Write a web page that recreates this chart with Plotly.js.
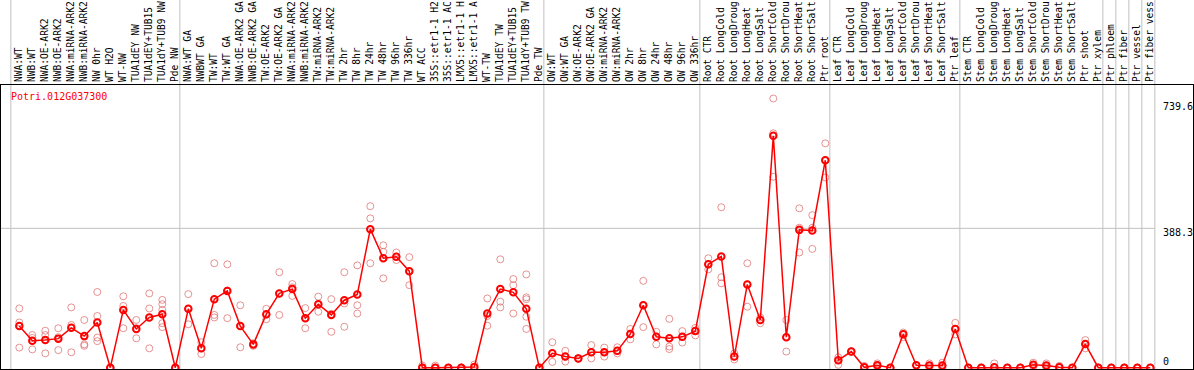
<!DOCTYPE html>
<html><head><meta charset="utf-8">
<script src="https://cdn.plot.ly/plotly-3.0.1.min.js"></script>
<style>html,body{margin:0;padding:0;background:#fff;overflow:hidden}</style>
</head><body><div id="chart" style="width:1194px;height:370px"></div>
<script>
const geneId = "Potri.012G037300";

const samples = [
  "NWA:WT","NWB:WT","NWA:OE-ARK2","NWB:OE-ARK2","NWA:miRNA-ARK2","NWB:miRNA-ARK2","NW 0hr","WT H2O","WT-NW","TUA1dEY NW","TUA1dEY+TUB15","TUA1dY+TUB9 NW","Pde NW",
  "NWA:WT GA","NWBWT GA","TW:WT","TW:WT GA","NWA:OE-ARK2 GA","NWB:OE-ARK2 GA","TW:OE-ARK2","TW:OE-ARK2 GA","NWA:miRNA-ARK2","NWB:miRNA-ARK2","TW:miRNA-ARK2","TW:miRNA-ARK2","TW 2hr","TW 8hr","TW 24hr","TW 48hr","TW 96hr","TW 336hr","WT ACC","35S::etr1-1 H2","35S::etr1-1 AC","LMX5::etr1-1 H","LMX5::etr1-1 A","WT-TW","TUA1dEY TW","TUA1dEY+TUB15","TUA1dY+TUB9 TW","Pde TW",
  "OW:WT","OW:WT GA","OW:OE-ARK2","OW:OE-ARK2 GA","OW:miRNA-ARK2","OW:miRNA-ARK2","OW 2hr","OW 8hr","OW 24hr","OW 48hr","OW 96hr","OW 336hr",
  "Root CTR","Root LongCold","Root LongDroug","Root LongHeat","Root LongSalt","Root ShortCold","Root ShortDrou","Root ShortHeat","Root ShortSalt","Ptr root",
  "Leaf CTR","Leaf LongCold","Leaf LongDroug","Leaf LongHeat","Leaf LongSalt","Leaf ShortCold","Leaf ShortDrou","Leaf ShortHeat","Leaf ShortSalt","Ptr leaf",
  "Stem CTR","Stem LongCold","Stem LongDroug","Stem LongHeat","Stem LongSalt","Stem ShortCold","Stem ShortDrou","Stem ShortHeat","Stem ShortSalt","Ptr shoot","Ptr xylem",
  "Ptr phloem","Ptr fiber","Ptr vessel","Ptr fiber vess"
];

const meanValues = [
  116,75,77,81,111,88,126,0,161,108,140,149,0,
  164,54,191,214,116,65,149,207,219,138,177,147,188,204,386,305,309,269,0,0,0,0,2,151,219,210,164,0,
  40,31,26,43,43,47,94,174,86,82,86,102,
  288,310,31,232,133,646,85,384,382,578,
  21,45,1,7,0,93,7,6,6,108,
  0,0,1,0,0,8,6,1,0,66,0,
  0,0,0,0
];

const replicateValues = [
  [165,126,56],[91,83,51],[103,91,40],[110,85,49],[168,119,43],[133,65,61],[211,144,84,74],[0,0,0],[199,172,110],[133,110,82],[207,165,54],[189,177,161,124,113],[0,0,0],
  [205,164,121],[71,54,38],[291,147,140],[288,215,138],[174,116,57],[68,65,61],[164,148,135],[266,207,147],[233,224,200],[166,138,110],[198,177,156],[191,150,100],[266,179,114],[285,174,151],[450,416,291],[341,323,249],[321,309,300],[308,269,230],[6,0,0],[6,0,0],[0,0,0],[0,0,0],[9,0,0],[193,144,117],[302,184,168],[247,230,151],[260,196,191,142,108],[0,0,0],
  [71,40,16],[47,31,17],[26,26,26],[63,43,26],[56,43,31],[57,47,40],[108,94,79],[242,174,113],[100,86,65],[136,59,52],[102,86,70],[111,102,90],
  [305,288,274],[447,252,235],[40,31,23],[291,232,170],[140,133,124],[750,653,532],[133,85,45],[444,390,321],[425,390,331],[625,578,530],
  [29,21,8],[45,45,45],[5,1,0],[12,7,3],[0,0,0],[98,93,85],[7,7,7],[12,6,1],[14,6,0],[125,108,93],
  [0,0,0],[0,0,0],[12,1,0],[0,0,0],[0,0,0],[14,8,3],[12,6,1],[5,1,0],[0,0,0],[77,66,54],[0,0,0],
  [0,0,0],[0,0,0],[0,0,0],[0,0,0]
];

const groupStarts = [0,13,41,53,63,73,84,85,86,87,88];
const yTickValues = [0, 388.3, 739.6];
const yTickLabels = ["0", "388.3", "739.6"];

const idx = samples.map((s, i) => i);
const repX = [], repY = [];
replicateValues.forEach((arr, i) => arr.forEach(v => { repX.push(i); repY.push(v); }));

const traces = [
  {
    x: repX, y: repY, type: 'scatter', mode: 'markers', hoverinfo: 'skip',
    marker: {symbol: 'circle-open', size: 7, color: 'rgba(222,110,110,0.75)', line: {width: 1}}
  },
  {
    x: idx, y: meanValues, type: 'scatter', mode: 'lines+markers',
    line: {color: '#ff0000', width: 1.5},
    marker: {symbol: 'circle-open', size: 6.5, color: '#ff0000', line: {width: 2}}
  }
];

const xMin = -1.408, xMax = xMin + 1192 / 13;
const shapes = [];
groupStarts.forEach(g => shapes.push({
  type: 'line', xref: 'x', yref: 'paper', x0: g - 0.65, x1: g - 0.65, y0: 0, y1: 1.31,
  line: {color: '#c0c0c0', width: 1}, layer: 'below'
}));
shapes.push({
  type: 'line', xref: 'x', yref: 'y', x0: xMin, x1: 87.35, y0: yTickValues[1], y1: yTickValues[1],
  line: {color: '#c0c0c0', width: 1}, layer: 'below'
});

const annotations = [{
  text: geneId, xref: 'paper', yref: 'paper', x: 0.0065, y: 0.958, xanchor: 'left', yanchor: 'middle',
  showarrow: false, font: {family: 'DejaVu Sans Mono', size: 10, color: '#ff0000'}
}];
yTickValues.forEach((v, i) => annotations.push({
  text: yTickLabels[i], xref: 'x', yref: 'y', x: 87.85, y: v, xanchor: 'left', yanchor: 'middle',
  yshift: v === 0 ? 6 : -4, showarrow: false,
  font: {family: 'DejaVu Sans Mono', size: 10, color: '#000'}
}));

const layout = {
  width: 1194, height: 370,
  margin: {l: 1, r: 1, t: 85, b: 1, pad: 0},
  paper_bgcolor: '#fff', plot_bgcolor: '#fff',
  showlegend: false,
  xaxis: {
    range: [xMin, xMax], side: 'top', tickmode: 'array', tickvals: idx, ticktext: samples,
    tickangle: -90, ticks: '', ticklabelstandoff: 0, showgrid: false, zeroline: false,
    showline: true, mirror: true, linecolor: '#000', linewidth: 1, automargin: false,
    tickfont: {family: 'DejaVu Sans Mono', size: 9.6, color: '#000'}
  },
  yaxis: {
    range: [-3.6, 787.6], showticklabels: false, ticks: '', showgrid: false, zeroline: false,
    showline: true, mirror: true, linecolor: '#000', linewidth: 1, automargin: false
  },
  shapes: shapes,
  annotations: annotations
};

Plotly.newPlot('chart', traces, layout, {displayModeBar: false, staticPlot: true});
</script></body></html>
